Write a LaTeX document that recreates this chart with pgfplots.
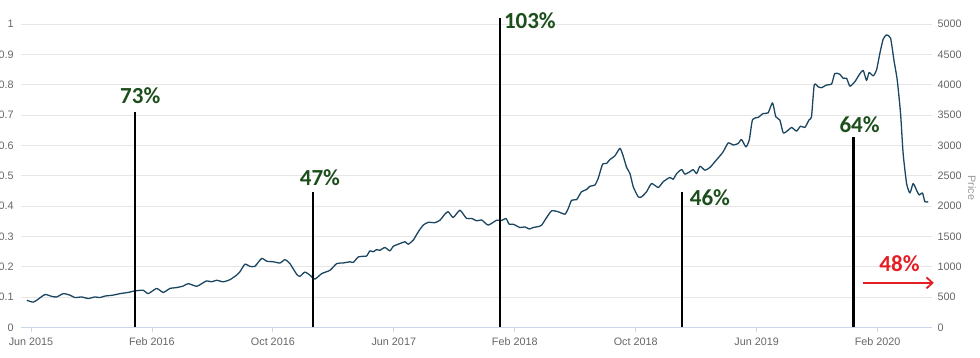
\documentclass[border=0pt]{standalone}
\usepackage{pgfplots}
\pgfplotsset{compat=1.18}
\usepackage{fontspec}
\setmainfont{Liberation Sans}
\newfontfamily\calib{Carlito}
\usetikzlibrary{arrows.meta}
\definecolor{linecol}{HTML}{1B4660}
\definecolor{gridc}{HTML}{E6E6E6}
\definecolor{axc}{HTML}{CCD6EB}
\definecolor{tickc}{HTML}{666666}
\definecolor{lblc}{HTML}{999999}
\definecolor{grn}{HTML}{1C4F1C}
\definecolor{redc}{HTML}{E31E24}
\pgfplotsset{
  base/.style={
    width=911.3pt, height=303.3pt, scale only axis,
    at={(20.7pt,30.7pt)}, anchor=south west,
    xmin=-0.68, xmax=59.6,
    clip=false,
    /pgf/number format/assume math mode=true,
    /pgf/number format/1000 sep={},
    tick label style={font=\fontsize{10.8}{12}\selectfont, text=tickc},
  }
}
\begin{document}
\begin{tikzpicture}
\useasboundingbox (0,0) rectangle (980pt,358pt);
% left axis with grid
\begin{axis}[base,
  ymin=0, ymax=1,
  ytick={0,0.1,0.2,0.3,0.4,0.5,0.6,0.7,0.8,0.9,1},
  xtick={0,8,16,24,32,40,48,56},
  xticklabels={Jun 2015,Feb 2016,Oct 2016,Jun 2017,Feb 2018,Oct 2018,Jun 2019,Feb 2020},
  axis x line*=bottom, axis y line*=left,
  y axis line style={draw=none},
  x axis line style={draw=axc, line width=0.8pt},
  ymajorgrids, grid style={draw=gridc, line width=0.8pt},
  ytick style={draw=none},
  xtick style={draw=axc, line width=0.8pt},
  tick align=outside, major tick length=5pt,
  xticklabel style={yshift=-2pt},
  yticklabel style={xshift=1.5pt},
]
\addplot[draw=none] coordinates {(0,0)};
\end{axis}
% right axis: price
\begin{axis}[base,
  ymin=0, ymax=5000,
  ytick={0,500,1000,1500,2000,2500,3000,3500,4000,4500,5000},
  axis x line=none, axis y line*=right,
  y axis line style={draw=none},
  ytick style={draw=none},
  yticklabel style={xshift=2pt},
]
\addplot[linecol, line width=1.3pt, smooth, tension=0.35, line join=round] coordinates {
(-0.28,445) (0.15,415) (0.46,460) (0.93,540) (1.37,510) (1.70,500) (2.14,555) (2.58,530)
(2.91,490) (3.35,500) (3.79,475) (4.23,500) (4.56,490) (4.89,515) (5.42,530) (5.89,555)
(6.44,575) (6.88,600) (7.43,610) (7.76,555) (8.31,640) (8.75,575) (9.19,640) (9.64,655)
(10.07,680) (10.40,720) (10.96,675) (11.29,720) (11.62,765) (11.95,750) (12.28,775) (12.72,750)
(13.16,785) (13.60,860) (13.82,915) (14.15,1040) (14.48,1005) (14.81,1005) (15.26,1135) (15.59,1090)
(16.03,1080) (16.47,1060) (16.80,1115) (17.13,1050) (17.57,875) (17.79,840) (18.12,910) (18.45,860)
(18.78,795) (19.23,885) (19.78,940) (20.22,1050) (20.65,1060) (21.10,1080) (21.32,1070)
(21.65,1160) (21.98,1170) (22.20,1175) (22.42,1260) (22.64,1245) (22.86,1280) (23.08,1270) (23.41,1315)
(23.74,1260) (23.96,1335) (24.40,1380) (24.74,1410) (24.95,1370) (25.28,1435) (25.62,1575) (25.95,1685)
(26.28,1730) (26.72,1725) (27.05,1765) (27.38,1865) (27.60,1905) (27.93,1810) (28.37,1930) (28.81,1795)
(29.15,1795) (29.48,1755) (29.81,1770) (30.24,1685) (30.80,1765) (31.13,1760) (31.42,1795) (31.63,1700)
(31.90,1700) (32.34,1645) (32.67,1655) (32.96,1620) (33.22,1645) (33.55,1660) (33.78,1685) (34.11,1810)
(34.44,1920) (34.87,1905) (35.32,1865) (35.54,1960) (35.76,2095) (36.09,2105) (36.42,2235) (36.75,2270)
(36.97,2325) (37.30,2345) (37.52,2455) (37.81,2690) (38.07,2700) (38.29,2765) (38.62,2825) (38.96,2950)
(39.17,2825) (39.40,2635) (39.62,2535) (39.84,2315) (40.17,2150) (40.39,2150) (40.72,2235) (41.05,2370)
(41.49,2305) (41.82,2400) (42.26,2470) (42.48,2440) (42.71,2535) (43.04,2600) (43.25,2525) (43.59,2565)
(43.80,2600) (44.03,2535) (44.25,2655) (44.58,2590) (44.91,2635) (45.24,2730) (45.57,2825) (45.79,2895)
(46.12,3040) (46.45,3005) (46.78,3030) (47.00,3095) (47.29,2975) (47.51,3085) (47.73,3425) (48.10,3460)
(48.43,3525) (48.76,3535) (49.05,3700) (49.27,3470) (49.54,3415) (49.76,3205) (50.09,3250) (50.31,3295)
(50.64,3235) (50.90,3315) (51.19,3295) (51.48,3425) (51.63,3470) (51.81,3995) (52.07,3965) (52.29,3950)
(52.63,3995) (52.96,4010) (53.17,4185) (53.51,4170) (53.72,4105) (53.95,4105) (54.17,3975) (54.50,4050)
(54.83,4180) (55.05,4235) (55.27,4070) (55.44,4200) (55.71,4145) (55.93,4240) (56.15,4515) (56.37,4750)
(56.59,4820) (56.86,4765) (57.08,4405) (57.30,4075) (57.52,3525) (57.69,2865) (57.92,2370) (58.14,2215)
(58.35,2370) (58.58,2260) (58.75,2180) (58.97,2215) (59.13,2070) (59.35,2070)
};
\node[xshift=40pt, rotate=-90, font=\fontsize{10.8}{12}\selectfont, text=lblc] at (rel axis cs:1,0.46) {Price};
\end{axis}
% bars and annotations on left scale
\begin{axis}[base, ymin=0, ymax=1, hide axis]
\addplot[ycomb, black, line width=2.6pt] coordinates {
(6.89,0.71) (18.65,0.446) (31.02,1.02) (43.06,0.445) (54.39,0.628)
};
\begin{scope}[every node/.style={font=\calib\bfseries\fontsize{23}{26}\selectfont, text=grn, inner sep=0pt}]
\node at (axis cs:7.23,0.763) {73\%};
\node at (axis cs:19.11,0.492) {47\%};
\node at (axis cs:33.0,1.010) {103\%};
\node at (axis cs:44.91,0.428) {46\%};
\node at (axis cs:54.81,0.669) {64\%};
\node[text=redc] at (axis cs:57.45,0.209) {48\%};
\end{scope}
\draw[redc, line width=1.8pt, -{Straight Barb[length=6pt,width=11pt]}] (axis cs:55.03,0.1464) -- (axis cs:59.72,0.1464);
\end{axis}
\end{tikzpicture}
\end{document}
